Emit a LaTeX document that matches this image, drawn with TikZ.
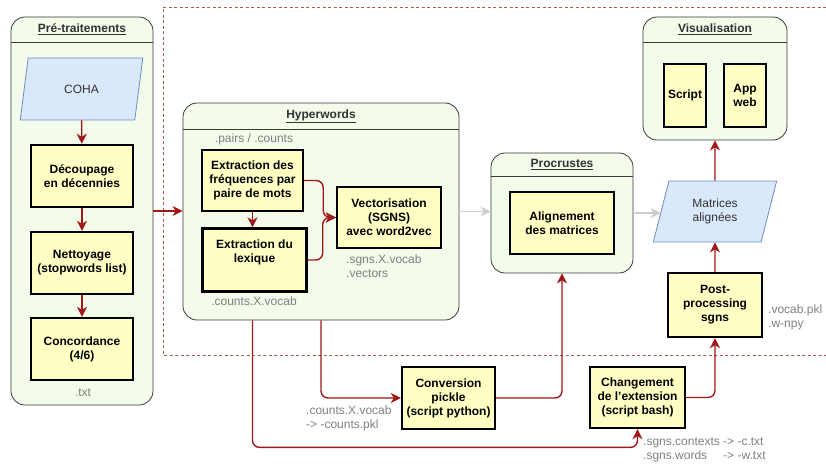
\documentclass[tikz,border=0pt]{standalone}
\usepackage{fontspec}
\setmainfont{Liberation Sans}
\usetikzlibrary{arrows.meta, positioning, shapes.geometric}

\definecolor{rouge}{HTML}{A01818}
\definecolor{cadrerouge}{HTML}{B85450}
\definecolor{vertpale}{HTML}{F3FBEA}
\definecolor{jaune}{HTML}{FFFFC4}
\definecolor{bleupale}{HTML}{DAE8FC}
\definecolor{bleu}{HTML}{6C8EBF}
\definecolor{grisbord}{HTML}{3A3A3A}
\definecolor{grisclair}{HTML}{CCCCCC}
\definecolor{grisnote}{HTML}{7F7F7F}
\definecolor{textefonce}{HTML}{333333}

\newcommand{\taille}{\fontsize{12}{14}\selectfont}

\tikzset{
  etape/.style={draw=black, line width=2.4pt, fill=jaune, align=center, font=\taille\bfseries, inner sep=2pt},
  groupe/.style={draw=grisbord, fill=vertpale, rounded corners=14pt, line width=0.8pt},
  entete/.style={draw=grisbord, line width=0.8pt},
  titre/.style={font=\taille\bfseries, text=textefonce},
  donnee/.style={trapezium, trapezium left angle=73, trapezium right angle=107, trapezium stretches=true,
    draw=bleu, fill=bleupale, line width=0.8pt, align=center, text=textefonce, inner sep=0pt, font=\taille},
  fleche/.style={draw=rouge, line width=1.4pt, rounded corners=7pt, -{Stealth[length=10pt, width=10pt, inset=3pt]}},
  flechegrise/.style={draw=grisclair, line width=1.8pt, -{Stealth[length=10pt, width=10pt, inset=3pt]}},
  note/.style={text=grisnote, align=left, inner sep=0pt, font=\taille},
  cadre/.style={draw=cadrerouge, line width=0.6pt, dash pattern=on 3pt off 2.5pt}
}

\begin{document}
\begin{tikzpicture}[x=1pt, y=-1pt]
\useasboundingbox (0,0) rectangle (826,465);

% Cadre en pointilles
\draw[cadre] (826,7) -- (163,7) -- (163,355) -- (826,355);

% Groupes
\node[groupe, minimum width=142pt, minimum height=388pt] (pre) at (82,211) {};
\draw[entete] ([yshift=-26pt]pre.north west) -- ([yshift=-26pt]pre.north east);
\node[titre] (tpre) at ([yshift=-13pt]pre.north) {\underline{Pré-traitements}};

\node[groupe, minimum width=276pt, minimum height=217pt] (hyper) at (321,211.5) {};
\draw[entete] ([yshift=-27pt]hyper.north west) -- ([yshift=-27pt]hyper.north east);
\node[titre] (thyper) at ([yshift=-13.5pt]hyper.north) {\underline{Hyperwords}};

\node[groupe, minimum width=142pt, minimum height=120pt] (procr) at (562,213) {};
\draw[entete] ([yshift=-24pt]procr.north west) -- ([yshift=-24pt]procr.north east);
\node[titre] (tprocr) at ([yshift=-12pt]procr.north) {\underline{Procrustes}};

\node[groupe, minimum width=144pt, minimum height=123pt] (visu) at (715,78.5) {};
\draw[entete] ([yshift=-26pt]visu.north west) -- ([yshift=-26pt]visu.north east);
\node[titre] (tvisu) at ([yshift=-13pt]visu.north) {\underline{Visualisation}};

% Pre-traitements
\node[donnee, minimum width=123pt, minimum height=62pt] (coha) at (81.5,89) {COHA};
\node[etape, minimum width=102pt, minimum height=62pt] (decoupage) at (82,176) {Découpage\\en décennies};
\node[etape, minimum width=102pt, minimum height=62pt] (nettoyage) at (82,263) {Nettoyage\\(stopwords list)};
\node[etape, minimum width=102pt, minimum height=62pt] (concordance) at (82,349) {Concordance\\(4/6)};
\node[note] (txt) at (83,393) {.txt};

% Hyperwords
\node[etape, minimum width=101pt, minimum height=61pt] (freq) at (252.5,180.5) {Extraction des\\fréquences par\\paire de mots};
\node[etape, minimum width=104pt, minimum height=63pt] (lexique) at (254.5,260) {Extraction du\\lexique\\[4pt]};
\node[etape, minimum width=104pt, minimum height=61pt] (vecto) at (389,217.5) {Vectorisation\\(SGNS)\\avec word2vec};
\node[note] (npairs) at (254,139) {.pairs / .counts};
\node[note] (ncounts) at (254,301) {.counts.X.vocab};
\node[note, anchor=north west] (nsgns) at (346,255) {.sgns.X.vocab\\.vectors};

% Procrustes et suite
\node[etape, minimum width=104pt, minimum height=62pt] (alignement) at (562,223) {Alignement\\des matrices};
\node[donnee, minimum width=124pt, minimum height=61pt] (matrices) at (715,211.5) {Matrices\\alignées};
\node[etape, minimum width=42pt, minimum height=63pt, inner sep=0pt] (script) at (685,95.5) {Script};
\node[etape, minimum width=42pt, minimum height=63pt, inner sep=0pt] (appweb) at (745,95.5) {App\\web};
\node[etape, minimum width=94pt, minimum height=64pt] (post) at (715,305) {Post-\\processing\\sgns};
\node[note, anchor=north west] (nvocab) at (768,305) {.vocab.pkl\\.w-npy};

% Scripts de conversion
\node[etape, minimum width=93pt, minimum height=62pt] (conversion) at (448.5,398) {Conversion\\pickle\\(script python)};
\node[etape, minimum width=95pt, minimum height=61pt] (changement) at (637.5,397.5) {Changement\\de l'extension\\(script bash)};
\node[note, anchor=north west] (npkl) at (306,406) {.counts.X.vocab\\-> -counts.pkl};
\node[note, anchor=north west] (nctx) at (643,435) {\begin{tabular}{@{}l@{\ }l@{}}.sgns.contexts & -> -c.txt\\.sgns.words & -> -w.txt\end{tabular}};

% Fleches
\draw[fleche] (coha) -- (decoupage);
\draw[fleche] (decoupage) -- (nettoyage);
\draw[fleche] (nettoyage) -- (concordance);
\draw[fleche] (pre.east) -- (pre.east -| hyper.west);
\draw[fleche] (freq.south) -- (freq.south |- lexique.north);
\draw[fleche] (freq.east) -- ++(19,0) |- (vecto.west);
\draw[fleche] (lexique.east) -- ++(15,0) |- (vecto.west);
\draw[flechegrise] (hyper.east) -- (hyper.east -| procr.west);
\draw[flechegrise] (procr.east) -- (procr.east -| matrices.west);
\draw[fleche] (matrices) -- (visu);
\draw[fleche] (post) -- (matrices);
\draw[fleche] (changement.east) -| (post.south);
\draw[fleche] (hyper.south) |- (conversion.west);
\draw[fleche] (conversion.east) -| (procr.south);
\draw[fleche] (freq.south |- hyper.south) -- ++(0,127) -| (changement.south);

\end{tikzpicture}
\end{document}
